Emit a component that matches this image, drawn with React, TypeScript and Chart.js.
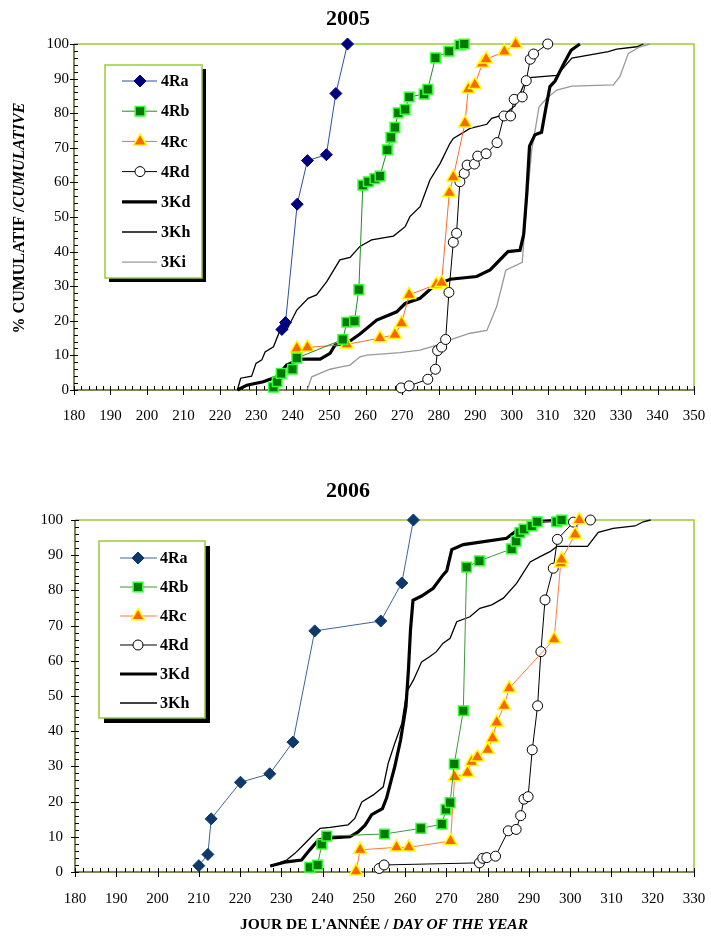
import React, { useEffect, useRef } from 'react';
import { Chart, registerables } from 'chart.js';

Chart.register(...registerables);

type Pt = [number, number];

// ---------- 2005 ----------
const X_TICKS_2005 = [180, 190, 200, 210, 220, 230, 240, 250, 260, 270, 280, 290, 300, 310, 320, 330, 340, 350];
const Y_TICKS = [0, 10, 20, 30, 40, 50, 60, 70, 80, 90, 100];
const SERIES_2005 = ['4Ra', '4Rb', '4Rc', '4Rd', '3Kd', '3Kh', '3Ki'];

const RA_2005: Pt[] = [[237, 17.5], [238, 19.5], [241.2, 53.7], [244, 66.3], [249.2, 68], [251.8, 85.7], [255, 100]];
const RB_2005: Pt[] = [[234.7, 0.8], [235.7, 2.4], [236.8, 4.8], [239.9, 6], [241.1, 9.2], [253.7, 14.6], [254.8, 19.6], [256.9, 19.9], [258.1, 29], [259.2, 59.2], [260.7, 60.2], [262.5, 61.1], [263.9, 61.8], [265.9, 69.4], [266.9, 73], [268, 75.9], [268.9, 80.1], [270.8, 81.1], [271.9, 84.7], [276, 85.5], [277, 86.9], [279.1, 96], [282.8, 97.9], [285.8, 99.7], [287, 100]];
const RC_2005: Pt[] = [[241.1, 12], [244, 12.3], [254.8, 13.2], [263.9, 15], [268, 16], [269.8, 19.3], [271.9, 27.5], [279.3, 30.5], [280.8, 31], [282.9, 57], [284, 61.5], [287.2, 77.1], [288.1, 86.9], [289.9, 88.2], [292, 94.4], [293, 95.6], [298, 97.8], [301.1, 100]];
const RD_2005: Pt[] = [[269.7, 0.6], [271.9, 1.2], [277, 3.1], [279.1, 6], [279.7, 11.4], [280.8, 12.4], [281.9, 14.6], [282.8, 28.2], [284, 42.7], [284.9, 45.3], [285.8, 60.2], [287, 62.6], [287.8, 65], [289.8, 65.3], [290.7, 67.6], [293, 68.3], [296, 71.5], [297.9, 79.2], [299.7, 79.2], [300.7, 84], [302.9, 84.7], [304, 89.4], [305.1, 95.6], [306, 97.1], [309.9, 100]];
const KD_2005: Pt[] = [[224.8, 0], [227.4, 1.4], [231.9, 2.4], [235.6, 3.8], [238.3, 7.2], [242, 8.9], [247.5, 8.9], [250.2, 10.6], [251.6, 13], [254.8, 13.5], [258.4, 16.2], [263, 20.2], [268.5, 22.6], [270.8, 25], [274.9, 26.5], [278.5, 29.9], [283.1, 32], [290.4, 32.8], [294.1, 34.7], [299, 40], [302.3, 40.4], [303.3, 45], [304.1, 56], [304.9, 70.5], [306.4, 73.8], [308.2, 74.5], [309.3, 81], [310.5, 87.7], [311.9, 89.3], [314.4, 94.5], [316.3, 98.2], [318.7, 100]];
const KH_2005: Pt[] = [[224.8, 0], [225.7, 3.4], [228.7, 4], [229.9, 7.7], [231.5, 8.7], [232.4, 11], [234.7, 12.5], [236.5, 17.3], [238.3, 17.3], [241.1, 23.1], [244.2, 26.5], [246.5, 27.5], [249.3, 31.3], [252.9, 37.6], [255.7, 38.3], [258.4, 41.5], [261.6, 43.4], [267.6, 44.5], [270.8, 47.2], [272.1, 50.1], [274.9, 53], [277.6, 60.7], [280.4, 65.5], [283.1, 71.3], [284, 72.7], [288.6, 75.6], [293.2, 76.8], [294.5, 78.5], [297.7, 79.5], [300.9, 82.1], [304.1, 90.2], [312.4, 90.9], [316.5, 95.9], [326.5, 97.8], [328.8, 98.5], [334.3, 99.2], [336.1, 100]];
const KI_2005: Pt[] = [[244, 0.2], [245.2, 3.8], [250.2, 6], [252.9, 6.6], [255.7, 7.2], [258.4, 9.6], [260.3, 10.1], [269.4, 10.8], [274.9, 11.5], [279.5, 13], [283.1, 14.5], [288.6, 16.4], [293.2, 17.2], [295.9, 24.1], [298.4, 34.6], [302.9, 36.9], [304.1, 53.5], [305.5, 69.4], [306, 72.3], [307.5, 81.8], [309.6, 84.3], [312.4, 86.7], [316.5, 87.8], [327.9, 88.2], [329.7, 90.6], [332, 97.3], [335.2, 99.2], [337.9, 100]];

// ---------- 2006 ----------
const X_TICKS_2006 = [180, 190, 200, 210, 220, 230, 240, 250, 260, 270, 280, 290, 300, 310, 320, 330];
const SERIES_2006 = ['4Ra', '4Rb', '4Rc', '4Rd', '3Kd', '3Kh'];

const RA_2006: Pt[] = [[210, 1.8], [212.2, 5], [213, 15.1], [220.1, 25.5], [227.2, 27.9], [232.8, 36.9], [238.1, 68.5], [254.1, 71.3], [259.2, 82.1], [262, 100]];
const RB_2006: Pt[] = [[236.9, 1.3], [238.8, 2], [239.8, 7.9], [241, 10.2], [255, 10.8], [263.8, 12.4], [268.9, 13.6], [269.9, 17.8], [270.9, 19.7], [271.9, 30.7], [274.1, 45.8], [274.9, 86.6], [278, 88.4], [285.8, 91.8], [286.9, 94], [287.8, 96.4], [288.8, 97.4], [290.7, 98.3], [292, 99.5], [296.7, 99.5], [297.9, 100]];
const RC_2006: Pt[] = [[248.1, 0.2], [249.1, 6.3], [257.9, 7], [260.9, 7], [271, 8.8], [272, 27], [275.1, 28.2], [276.1, 31.3], [277.5, 32.6], [280, 34.7], [281.2, 38], [282.2, 42.5], [284, 47.2], [285.2, 52.2], [296.1, 66.1], [297.7, 87.7], [297.9, 88.8], [301.2, 95.9], [302.2, 100]];
const RD_2006: Pt[] = [[253.7, 1], [254.9, 2], [278, 2.6], [278.8, 3.9], [279.8, 4.1], [281.9, 4.5], [285, 11.7], [286.9, 12.1], [288, 16], [288.8, 20.7], [289.8, 21.4], [290.8, 34.7], [292.1, 47.2], [292.9, 62.6], [293.9, 77.3], [295.9, 86.3], [296.9, 94.5], [300.8, 99.4], [304.9, 100]];
const KD_2006: Pt[] = [[227.3, 1.7], [231.3, 2.9], [234.9, 3.4], [236.9, 6.3], [239, 9.1], [241, 9.6], [246.6, 10], [248.6, 11.4], [250.3, 13.3], [251.9, 16.3], [254.5, 18], [255.5, 21], [257.5, 30], [258.9, 37.5], [260.2, 47], [260.8, 57.4], [261.3, 68.8], [261.9, 77.2], [264, 78.4], [266.8, 80.6], [269.2, 84.4], [270.1, 85.6], [271.3, 91.6], [274.1, 93], [284.6, 94.8], [287, 97], [291.5, 99.5], [298, 100]];
const KH_2006: Pt[] = [[227.3, 1.7], [231.3, 3.4], [233.3, 5.3], [235.7, 8.1], [237.7, 10.5], [239.4, 12.4], [241.8, 12.7], [246.2, 13.4], [247.8, 15.2], [249.5, 19.9], [252.3, 21.9], [254.7, 24.2], [255.9, 30.9], [257.5, 36.6], [259.2, 42.2], [260.4, 51.2], [262, 54.5], [264, 59.7], [266, 61.2], [267.6, 62.6], [269.2, 65], [270.9, 66.4], [272.5, 71.1], [275.7, 72.5], [278.1, 74.9], [281, 75.9], [283.8, 77.8], [287, 82], [290.3, 88.1], [292.7, 89.6], [295.1, 91], [296.8, 92.5], [304.2, 92.5], [306.8, 96.5], [310.4, 97.6], [315.7, 98.3], [317.7, 99.5], [319.5, 100]];

// ---------- styles ----------
const SERIF = "'Liberation Serif', 'Times New Roman', serif";
const FRAME_GREEN = '#9acd32';
const AXIS_OLIVE = '#55601f';

type Style = { line: string; width: number; shape: string | false; r: number; fill: string; border: string; bw: number };

const STYLE_2005: Record<string, Style> = {
  '4Ra': { line: '#2a4f9c', width: 1, shape: 'rectRot', r: 6, fill: '#000080', border: '#000080', bw: 1 },
  '4Rb': { line: '#238a23', width: 1, shape: 'rect', r: 6.8, fill: '#007a00', border: '#33ff33', bw: 1.5 },
  '4Rc': { line: '#ff6a2a', width: 1, shape: 'triangle', r: 7.5, fill: '#ff6600', border: '#ffff00', bw: 1.5 },
  '4Rd': { line: '#000000', width: 1, shape: 'circle', r: 5, fill: '#ffffff', border: '#000000', bw: 1 },
  '3Kd': { line: '#000000', width: 3.2, shape: false, r: 0, fill: '#000', border: '#000', bw: 0 },
  '3Kh': { line: '#000000', width: 1.3, shape: false, r: 0, fill: '#000', border: '#000', bw: 0 },
  '3Ki': { line: '#999999', width: 1.3, shape: false, r: 0, fill: '#999', border: '#999', bw: 0 },
};
const STYLE_2006: Record<string, Style> = {
  ...STYLE_2005,
  '4Ra': { line: '#3a6698', width: 1, shape: 'rectRot', r: 6, fill: '#0d3a6a', border: '#0d3a6a', bw: 1 },
  '4Rb': { line: '#3a9a3a', width: 1, shape: 'rect', r: 6.8, fill: '#007a00', border: '#33ff33', bw: 1.5 },
  '4Rc': { line: '#ff7a40', width: 1, shape: 'triangle', r: 7.5, fill: '#ff6600', border: '#ffff00', bw: 1.5 },
};

function drawShape(ctx: CanvasRenderingContext2D, s: Style, x: number, y: number) {
  if (!s.shape) return;
  const r = s.r;
  ctx.beginPath();
  if (s.shape === 'rectRot') {
    ctx.moveTo(x, y - r); ctx.lineTo(x + r, y); ctx.lineTo(x, y + r); ctx.lineTo(x - r, y); ctx.closePath();
  } else if (s.shape === 'rect') {
    const h = Math.SQRT1_2 * r; ctx.rect(x - h, y - h, 2 * h, 2 * h);
  } else if (s.shape === 'triangle') {
    const a = (2 * Math.PI) / 3;
    ctx.moveTo(x, y - r);
    ctx.lineTo(x + Math.sin(a) * r, y - Math.cos(a) * r);
    ctx.lineTo(x + Math.sin(2 * a) * r, y - Math.cos(2 * a) * r);
    ctx.closePath();
  } else {
    ctx.arc(x, y, r, 0, Math.PI * 2);
  }
  ctx.fillStyle = s.fill; ctx.fill();
  ctx.lineWidth = s.bw; ctx.strokeStyle = s.border; ctx.stroke();
}

type Part = { text: string; font: string };
function drawParts(ctx: CanvasRenderingContext2D, parts: Part[], cx: number, cy: number) {
  let total = 0;
  for (const p of parts) { ctx.font = p.font; total += ctx.measureText(p.text).width; }
  let x = cx - total / 2;
  ctx.textAlign = 'left'; ctx.textBaseline = 'middle'; ctx.fillStyle = '#000';
  for (const p of parts) { ctx.font = p.font; ctx.fillText(p.text, x, cy); x += ctx.measureText(p.text).width; }
}

type Cfg = {
  title: string; titleY: number;
  xTicks: number[]; names: string[]; series: Record<string, Pt[]>; styles: Record<string, Style>;
  padTop: number; xHeight: number; yWidth: number; yPad: number; xPad: number;
  legend: { x0: number; y0: number; x1: number; y1: number; shadow: number; rowY: number; rowStep: number; lx0: number; lx1: number; mx: number; tx: number };
  yTitle?: { x: number; y: number };
  xTitle?: { x: number; y: number };
};

function makeChart(canvas: HTMLCanvasElement, cfg: Cfg) {
  const xMin = cfg.xTicks[0];
  const xMax = cfg.xTicks[cfg.xTicks.length - 1];
  const datasets = cfg.names.map((n) => {
    const s = cfg.styles[n];
    return {
      label: n,
      data: cfg.series[n].map(([x, y]) => ({ x, y })),
      showLine: true,
      tension: 0,
      borderColor: s.line,
      borderWidth: s.width,
      backgroundColor: s.fill,
      pointStyle: s.shape || 'circle',
      pointRadius: s.shape ? s.r : 0,
      pointHoverRadius: s.shape ? s.r : 0,
      pointBackgroundColor: s.fill,
      pointBorderColor: s.border,
      pointBorderWidth: s.bw,
      clip: false as const,
    };
  });

  const decor = {
    id: 'decor',
    beforeDatasetsDraw(chart: any) {
      const { ctx, chartArea: a, scales } = chart;
      const xs = scales.x, ys = scales.y;
      ctx.save();
      ctx.lineWidth = 1.5;
      ctx.strokeStyle = FRAME_GREEN;
      ctx.beginPath(); ctx.moveTo(a.left, a.top); ctx.lineTo(a.right, a.top); ctx.lineTo(a.right, a.bottom); ctx.stroke();
      ctx.strokeStyle = AXIS_OLIVE;
      ctx.beginPath(); ctx.moveTo(a.left, a.top); ctx.lineTo(a.left, a.bottom); ctx.lineTo(a.right, a.bottom); ctx.stroke();
      ctx.strokeStyle = '#000'; ctx.lineWidth = 1;
      ctx.beginPath();
      for (let v = xMin; v <= xMax; v += 2) {
        const px = Math.round(xs.getPixelForValue(v)) + 0.5;
        const major = v % 10 === 0;
        ctx.moveTo(px, a.bottom - 4); ctx.lineTo(px, a.bottom + (major ? 5 : 0));
      }
      for (let v = 0; v <= 100; v += 2) {
        const py = Math.round(ys.getPixelForValue(v)) + 0.5;
        const major = v % 10 === 0;
        ctx.moveTo(a.left - (major ? 4 : 0), py); ctx.lineTo(a.left + 4, py);
      }
      ctx.stroke();
      ctx.restore();
    },
    afterDatasetsDraw(chart: any) {
      const { ctx } = chart;
      const L = cfg.legend;
      ctx.save();
      ctx.fillStyle = '#000';
      ctx.fillRect(L.x0 + L.shadow, L.y0 + L.shadow, L.x1 - L.x0, L.y1 - L.y0);
      ctx.fillStyle = '#fff';
      ctx.fillRect(L.x0, L.y0, L.x1 - L.x0, L.y1 - L.y0);
      ctx.strokeStyle = FRAME_GREEN; ctx.lineWidth = 1.5;
      ctx.strokeRect(L.x0, L.y0, L.x1 - L.x0, L.y1 - L.y0);
      cfg.names.forEach((n, i) => {
        const s = cfg.styles[n];
        const y = L.rowY + i * L.rowStep;
        ctx.strokeStyle = s.line; ctx.lineWidth = s.width;
        ctx.beginPath(); ctx.moveTo(L.lx0, y); ctx.lineTo(L.lx1, y); ctx.stroke();
        drawShape(ctx, s, L.mx, y);
        ctx.fillStyle = '#000'; ctx.font = `bold 16px ${SERIF}`;
        ctx.textAlign = 'left'; ctx.textBaseline = 'middle';
        ctx.fillText(n, L.tx, y + 1);
      });
      ctx.restore();
    },
    afterDraw(chart: any) {
      const { ctx } = chart;
      ctx.save();
      drawParts(ctx, [{ text: cfg.title, font: `bold 22px ${SERIF}` }], 348, cfg.titleY);
      if (cfg.yTitle) {
        ctx.translate(cfg.yTitle.x, cfg.yTitle.y);
        ctx.rotate(-Math.PI / 2);
        drawParts(ctx, [
          { text: '% CUMULATIF /', font: `bold 16px ${SERIF}` },
          { text: 'CUMULATIVE', font: `italic bold 16px ${SERIF}` },
        ], 0, 0);
        ctx.setTransform(1, 0, 0, 1, 0, 0);
      }
      if (cfg.xTitle) {
        drawParts(ctx, [
          { text: "JOUR DE L'ANNÉE / ", font: `bold 15.5px ${SERIF}` },
          { text: 'DAY OF THE YEAR', font: `italic bold 15.5px ${SERIF}` },
        ], cfg.xTitle.x, cfg.xTitle.y);
      }
      ctx.restore();
    },
  };

  return new Chart(canvas, {
    type: 'scatter',
    data: { datasets },
    options: {
      animation: false,
      responsive: false,
      devicePixelRatio: 1,
      layout: { padding: { left: 0, right: 17, top: cfg.padTop, bottom: 0 } },
      plugins: { legend: { display: false }, tooltip: { enabled: false }, title: { display: false } },
      scales: {
        x: {
          type: 'linear', min: xMin, max: xMax,
          grid: { display: false, drawTicks: false },
          border: { display: false },
          ticks: { color: '#000', font: { family: SERIF, size: 15 }, padding: cfg.xPad, autoSkip: false, maxRotation: 0, minRotation: 0 },
          afterBuildTicks: (s: any) => { s.ticks = cfg.xTicks.map((v) => ({ value: v })); },
          afterFit: (s: any) => { s.height = cfg.xHeight; s.paddingLeft = 0; s.paddingRight = 0; },
        },
        y: {
          type: 'linear', min: 0, max: 100,
          grid: { display: false, drawTicks: false },
          border: { display: false },
          ticks: { color: '#000', font: { family: SERIF, size: 15 }, padding: cfg.yPad, autoSkip: false },
          afterBuildTicks: (s: any) => { s.ticks = Y_TICKS.map((v) => ({ value: v })); },
          afterFit: (s: any) => { s.width = cfg.yWidth; },
        },
      },
    } as any,
    plugins: [decor],
  });
}

export default function App() {
  const ref1 = useRef<HTMLCanvasElement>(null);
  const ref2 = useRef<HTMLCanvasElement>(null);

  useEffect(() => {
    const c1 = makeChart(ref1.current!, {
      title: '2005', titleY: 19,
      xTicks: X_TICKS_2005, names: SERIES_2005,
      series: { '4Ra': RA_2005, '4Rb': RB_2005, '4Rc': RC_2005, '4Rd': RD_2005, '3Kd': KD_2005, '3Kh': KH_2005, '3Ki': KI_2005 },
      styles: STYLE_2005,
      padTop: 44, xHeight: 70, yWidth: 74, yPad: 5, xPad: 17,
      legend: { x0: 105, y0: 65, x1: 202, y1: 278, shadow: 4, rowY: 81, rowStep: 30.2, lx0: 122, lx1: 157, mx: 140, tx: 161 },
      yTitle: { x: 20, y: 218 },
    });
    const c2 = makeChart(ref2.current!, {
      title: '2006', titleY: 31,
      xTicks: X_TICKS_2006, names: SERIES_2006,
      series: { '4Ra': RA_2006, '4Rb': RB_2006, '4Rc': RC_2006, '4Rd': RD_2006, '3Kd': KD_2006, '3Kh': KH_2006 },
      styles: STYLE_2006,
      padTop: 60, xHeight: 68, yWidth: 75, yPad: 12, xPad: 18,
      legend: { x0: 99, y0: 81, x1: 205, y1: 258, shadow: 5, rowY: 98, rowStep: 29, lx0: 120, lx1: 157, mx: 138, tx: 160 },
      xTitle: { x: 384, y: 465 },
    });
    return () => { c1.destroy(); c2.destroy(); };
  }, []);

  return (
    <div style={{ position: 'absolute', left: 0, top: 0, width: 711, height: 940, background: '#fff' }}>
      <canvas ref={ref1} width={711} height={460} style={{ position: 'absolute', left: 0, top: 0, width: 711, height: 460 }} />
      <canvas ref={ref2} width={711} height={480} style={{ position: 'absolute', left: 0, top: 460, width: 711, height: 480 }} />
    </div>
  );
}
